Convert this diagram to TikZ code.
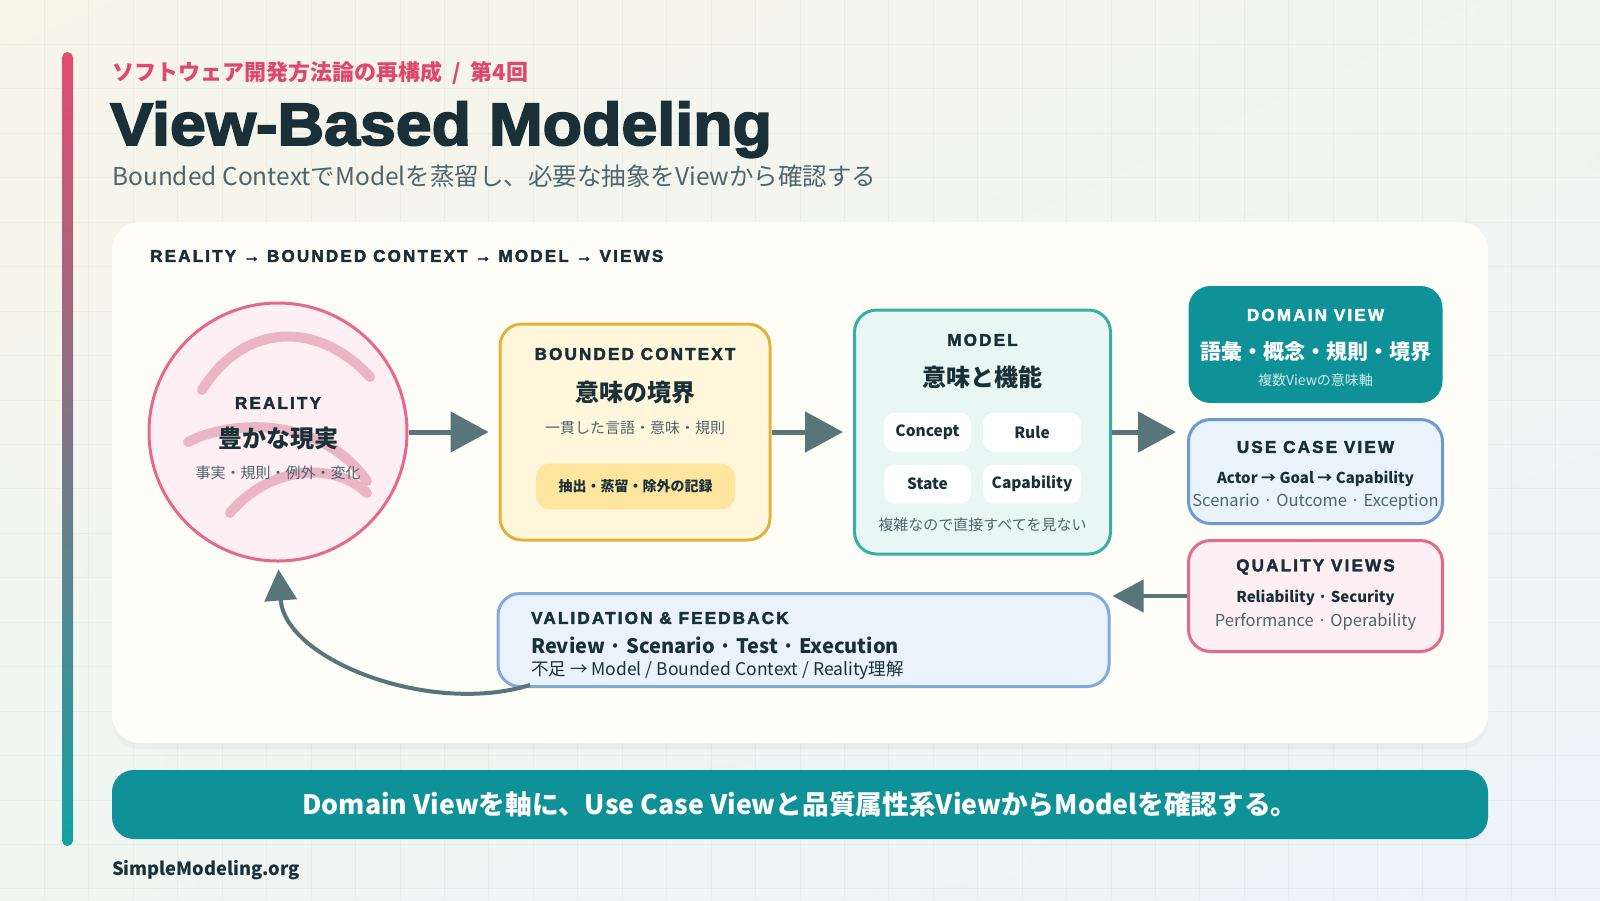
\documentclass[tikz,border=0pt]{standalone}
\usepackage{fontspec}
\setmainfont{Noto Sans CJK JP}
\newfontfamily\capsfont{Liberation Sans}[LetterSpace=13,BoldFeatures={FakeBold=2.5}]
\newfontfamily\titlefont{Liberation Sans}[BoldFeatures={FakeBold=3,FakeStretch=1.075}]
\usetikzlibrary{arrows.meta,shadows,shadings}
\definecolor{bgA}{HTML}{F8F5E9}
\definecolor{bgB}{HTML}{F1F5F0}
\definecolor{bgC}{HTML}{EFF6F2}
\definecolor{bgD}{HTML}{EEF2F8}
\definecolor{ink}{HTML}{1A3038}
\definecolor{slate}{HTML}{4D666C}
\definecolor{kicker}{HTML}{E0476D}
\definecolor{barTop}{HTML}{E24C6F}
\definecolor{barBottom}{HTML}{14A2A2}
\definecolor{paper}{HTML}{FEFDF8}
\definecolor{roseline}{HTML}{E5698A}
\definecolor{rosefill}{HTML}{FDEFF3}
\definecolor{rosearc}{HTML}{EAB5C5}
\definecolor{gold}{HTML}{E0B43C}
\definecolor{goldfill}{HTML}{FFF6DC}
\definecolor{goldpill}{HTML}{FFE69E}
\definecolor{mint}{HTML}{38AFA5}
\definecolor{mintfill}{HTML}{E8F7F4}
\definecolor{lagoon}{HTML}{0E9297}
\definecolor{lagoonsub}{HTML}{CFEDEC}
\definecolor{sky}{HTML}{6C9BD3}
\definecolor{skyfill}{HTML}{EAF2FC}
\definecolor{skysoft}{HTML}{82AADB}
\definecolor{flow}{HTML}{587579}

\begin{document}
\begin{tikzpicture}[x=1pt,y=-1pt,
gridline/.style={draw=black,draw opacity=0.035,line width=0.8pt},
card/.style={rectangle,rounded corners=22pt,line width=3pt,inner sep=0pt},
chip/.style={rectangle,rounded corners=11pt,fill=white,inner sep=0pt,minimum height=39pt,
  font=\bfseries\fontsize{15.5}{18}\selectfont,text=ink},
tag/.style={font=\capsfont\bfseries\fontsize{17}{20}\selectfont,text=ink,inner sep=0pt},
headline/.style={font=\bfseries\fontsize{24}{28}\selectfont,text=ink,inner sep=0pt},
strong/.style={font=\bfseries\fontsize{15}{18}\selectfont,text=ink,inner sep=0pt},
note/.style={font=\fontsize{15}{18}\selectfont,text=slate,inner sep=0pt},
flowarrow/.style={draw=flow,line width=5pt,-{Triangle[length=38pt,width=40pt]}},
backarrow/.style={draw=flow,line width=4pt,-{Triangle[length=31pt,width=32pt]}}]
\useasboundingbox (0,0) rectangle (1600,900);
\shade[upper left=bgA,upper right=bgB,lower left=bgC,lower right=bgD] (0,0) rectangle (1600,900);
\foreach \gx in {1,...,35} \draw[gridline] (\gx*44.44,0) -- (\gx*44.44,900);
\foreach \gy in {1,...,20} \draw[gridline] (0,\gy*44.44) -- (1600,\gy*44.44);
\shade[top color=barTop,bottom color=barBottom,rounded corners=5.5pt] (62,52) rectangle (73,846);

\node[anchor=west,inner sep=0pt,font=\bfseries\fontsize{22}{26}\selectfont,text=kicker] (Kicker) at (112,73) {ソフトウェア開発方法論の再構成\hspace{10pt}/\hspace{10pt}第4回};
\node[anchor=base west,inner sep=0pt,font=\titlefont\bfseries\fontsize{60}{66}\selectfont,text=ink] (Title) at (110,145) {View-Based Modeling};
\node[anchor=west,inner sep=0pt,font=\fontsize{24.5}{28}\selectfont,text=slate] (Lead) at (112,176) {Bounded ContextでModelを蒸留し、必要な抽象をViewから確認する};

\node[rectangle,rounded corners=28pt,fill=paper,minimum width=1376pt,minimum height=521pt,
  drop shadow={opacity=0.06,shadow xshift=0pt,shadow yshift=-6pt}] (Panel) at (800,482.5) {};
\node[tag,anchor=west] (Pipeline) at (150,256) {REALITY → BOUNDED CONTEXT → MODEL → VIEWS};

\node[circle,draw=roseline,fill=rosefill,line width=3pt,minimum size=258pt,inner sep=0pt] (Reality) at (278,432) {};
\draw[rosearc,line width=10pt,line cap=round] (202,390) .. controls (245,321) and (319,321) .. (370,377);
\draw[rosearc,line width=10pt,line cap=round] (188,442) .. controls (230,420) and (320,415) .. (367,481);
\draw[rosearc,line width=10pt,line cap=round] (230,513) .. controls (265,470) and (330,458) .. (367,493);
\node[tag] (RealityTag) at (278,403) {REALITY};
\node[headline] (RealityHead) at (278,438) {豊かな現実};
\node[note] (RealityNote) at (278,473) {事実・規則・例外・変化};

\node[card,draw=gold,fill=goldfill,minimum width=270pt,minimum height=216pt] (Bounded) at (635,432) {};
\node[tag] (BoundedTag) at (635,354) {BOUNDED CONTEXT};
\node[headline] (BoundedHead) at (635,392) {意味の境界};
\node[note] (BoundedNote) at (635,428) {一貫した言語・意味・規則};
\node[rectangle,rounded corners=14pt,fill=goldpill,minimum width=199pt,minimum height=46pt,inner sep=0pt,
  font=\bfseries\fontsize{14}{17}\selectfont,text=ink] (Distill) at (635.5,486.5) {抽出・蒸留・除外の記録};

\node[card,draw=mint,fill=mintfill,minimum width=256pt,minimum height=244pt] (Model) at (982.5,432) {};
\node[tag] (ModelTag) at (982.5,340) {MODEL};
\node[headline] (ModelHead) at (982.5,377) {意味と機能};
\node[chip,minimum width=87pt] (Concept) at (927.5,432) {Concept};
\node[chip,minimum width=98pt] (Rule) at (1032,432) {Rule};
\node[chip,minimum width=87pt] (State) at (927.5,484) {State};
\node[chip,minimum width=98pt] (Capability) at (1032,484) {Capability};
\node[note] (ModelNote) at (982.5,525) {複雑なので直接すべてを見ない};

\node[card,draw=none,fill=lagoon,minimum width=254pt,minimum height=117pt] (Domain) at (1315.5,344.5) {};
\node[tag,text=white] (DomainTag) at (1315.5,315) {DOMAIN VIEW};
\node[headline,text=white,font=\bfseries\fontsize{21}{25}\selectfont] (DomainHead) at (1315.5,352) {語彙・概念・規則・境界};
\node[inner sep=0pt,font=\fontsize{14}{17}\selectfont,text=lagoonsub] (DomainNote) at (1315.5,380) {複数Viewの意味軸};

\node[card,draw=sky,fill=skyfill,minimum width=254pt,minimum height=104pt] (UseCase) at (1315.5,471.5) {};
\node[tag] (UseCaseTag) at (1315.5,447) {USE CASE VIEW};
\node[strong] (UseCaseFlow) at (1315.5,479) {Actor → Goal → Capability};
\node[note,font=\fontsize{16.5}{19}\selectfont] (UseCaseNote) at (1315.5,502) {Scenario · Outcome · Exception};

\node[card,draw=roseline,fill=rosefill,minimum width=254pt,minimum height=111pt] (Quality) at (1315.5,596) {};
\node[tag] (QualityTag) at (1315.5,567) {QUALITY VIEWS};
\node[strong] (QualityMain) at (1315.5,598) {Reliability · Security};
\node[note,font=\fontsize{16.5}{19}\selectfont] (QualityNote) at (1315.5,622) {Performance · Operability};

\node[card,draw=skysoft,fill=skyfill,minimum width=611pt,minimum height=93pt] (Validation) at (803.5,640) {};
\node[tag,anchor=west] (ValidationTag) at (531,618) {VALIDATION \& FEEDBACK};
\node[strong,anchor=west,font=\bfseries\fontsize{20}{24}\selectfont] (ValidationMain) at (531,645) {Review · Scenario · Test · Execution};
\node[inner sep=0pt,anchor=west,font=\fontsize{17.5}{20}\selectfont,text=ink] (ValidationNote) at (531,670) {不足 → Model / Bounded Context / Reality理解};

\draw[flowarrow,shorten >=10pt] (Reality.east) -- (Bounded.west);
\draw[flowarrow,shorten >=10pt] (Bounded.east) -- (Model.west);
\draw[flowarrow,shorten >=11pt] (Model.east) -- (Model.east -| UseCase.west);
\draw[backarrow,shorten >=2pt] (Quality.west) -- (Quality.west -| Validation.east);
\coordinate (FeedbackStart) at (530,685);
\draw[backarrow,shorten >=7pt] (FeedbackStart) .. controls (430,716) and (285,660) .. (Reality.south);

\node[rectangle,rounded corners=22pt,fill=lagoon,minimum width=1376pt,minimum height=69pt,inner sep=0pt,
  font=\bfseries\fontsize{26.7}{30}\selectfont,text=white] (Banner) at (800,804.5) {Domain Viewを軸に、Use Case Viewと品質属性系ViewからModelを確認する。};
\node[anchor=west,inner sep=0pt,font=\bfseries\fontsize{18.3}{22}\selectfont,text=ink] (Site) at (112,870) {SimpleModeling.org};
\end{tikzpicture}
\end{document}
